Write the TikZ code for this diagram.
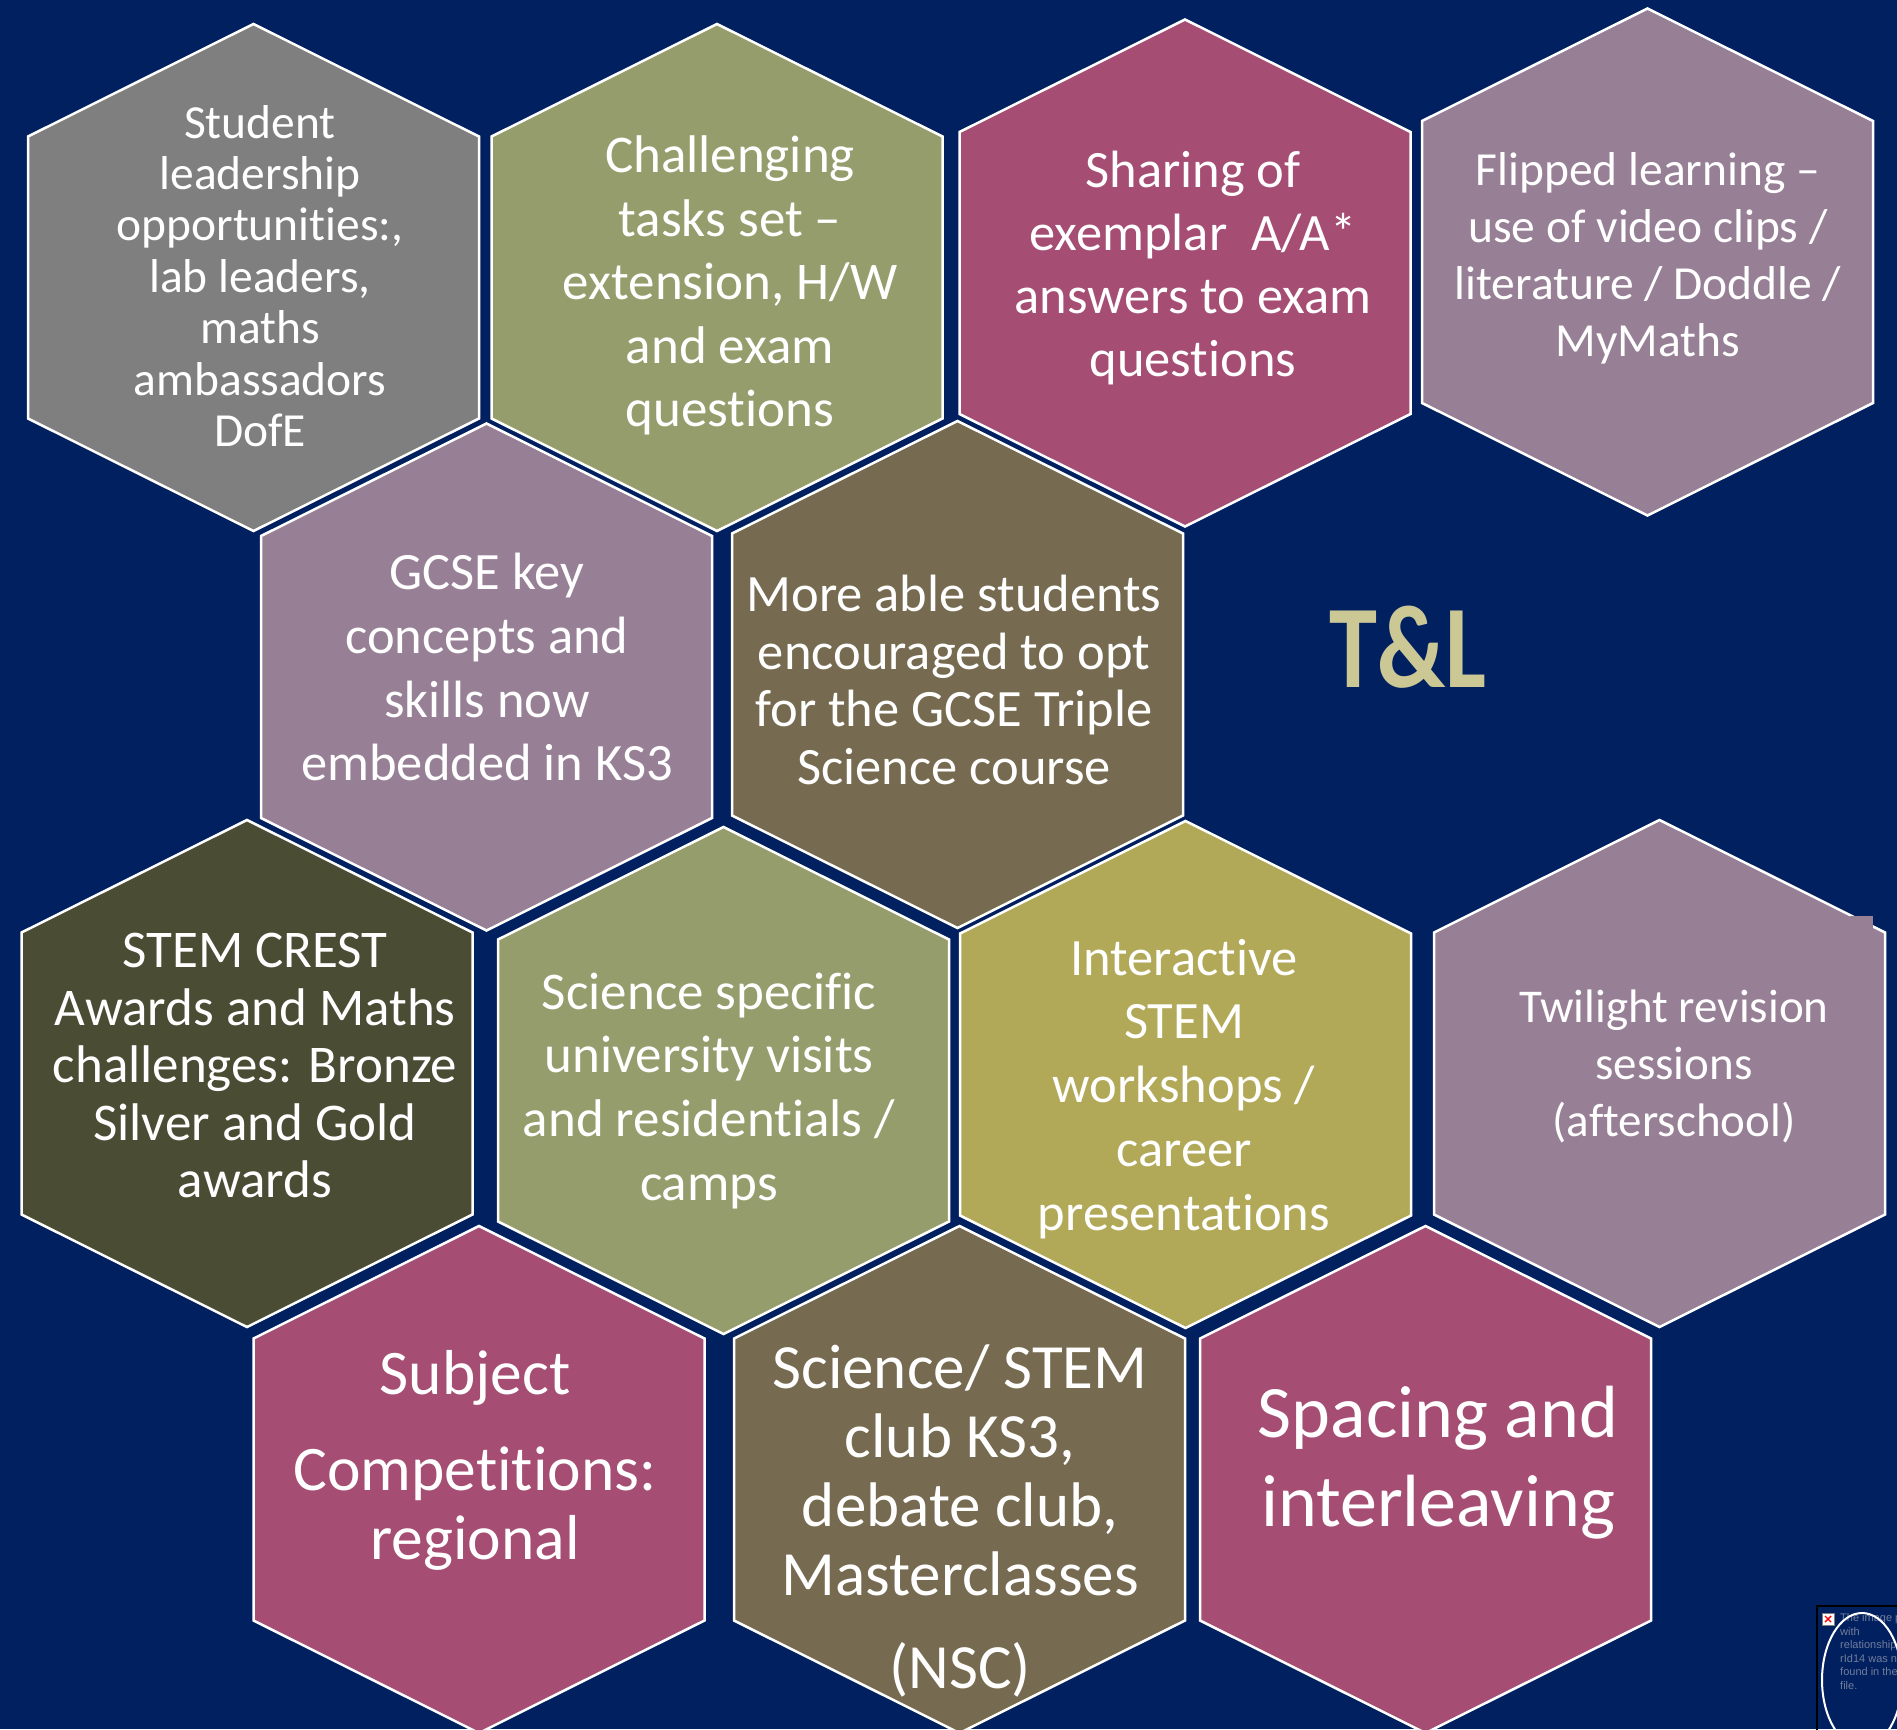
\documentclass[tikz,border=0pt]{standalone}
\usepackage{fontspec}
\setmainfont{Carlito}[Ligatures=CommonOff]
\newfontfamily\arialfont{Liberation Sans}
\definecolor{navybg}{RGB}{0,32,96}
\definecolor{hexgray}{RGB}{127,127,127}
\definecolor{hexolive}{RGB}{150,157,108}
\definecolor{hexmagenta}{RGB}{166,77,116}
\definecolor{hexmauve}{RGB}{151,127,149}
\definecolor{hexbrown}{RGB}{118,107,80}
\definecolor{hexdark}{RGB}{74,76,52}
\definecolor{hexyellow}{RGB}{177,169,88}
\definecolor{tlcolor}{RGB}{204,200,150}
\definecolor{brokengray}{RGB}{115,125,155}
\tikzset{
  hexborder/.style={draw=white, line width=2.5pt, line join=miter},
  hextext/.style={text=white, align=center, inner sep=0pt},
}
\newcommand{\hexshape}[3]{%
  \filldraw[hexborder, fill=#3] (#1-225.5,#2-141) -- (#1,#2-253.5) -- (#1+225.5,#2-141)
    -- (#1+225.5,#2+141) -- (#1,#2+253.5) -- (#1-225.5,#2+141) -- cycle;}
\begin{document}
\begin{tikzpicture}[x=1pt,y=-1pt]
\useasboundingbox (0,0) rectangle (1897,1729);
\clip (0,0) rectangle (1897,1729);
\fill[navybg] (0,0) rectangle (1897,1729);

% row 1
\hexshape{253.5}{277.5}{hexgray}
\hexshape{717}{277.5}{hexolive}
\hexshape{1185}{273}{hexmagenta}
\hexshape{1647.5}{262}{hexmauve}
% row 2
\hexshape{486.5}{677}{hexmauve}
\hexshape{957.5}{674.5}{hexbrown}
% row 3
\hexshape{247}{1073.5}{hexdark}
\hexshape{723.5}{1080.5}{hexolive}
\hexshape{1185.5}{1074.5}{hexyellow}
\hexshape{1659.5}{1073.5}{hexmauve}
\fill[hexmauve] (1850,916) rectangle (1873,929);
% row 4
\hexshape{479}{1479.5}{hexmagenta}
\hexshape{959.5}{1479.5}{hexbrown}
\hexshape{1425.5}{1479.5}{hexmagenta}

% texts
\node[hextext, font=\fontsize{47.5}{51.4}\selectfont] (t1) at (260,282)
  {\strut Student\\leadership\\opportunities:,\\lab leaders,\\maths\\ambassadors\\DofE\strut};
\node[hextext, font=\fontsize{53}{63.5}\selectfont] (t2) at (730,287)
  {\strut Challenging\\tasks set –\\extension, H/W\\and exam\\questions\strut};
\node[hextext, font=\fontsize{52.5}{63}\selectfont] (t3) at (1193,269)
  {\strut Sharing of\\exemplar~~A/A*\\answers to exam\\questions\strut};
\node[hextext, font=\fontsize{47.5}{57}\selectfont] (t4) at (1648,260)
  {\strut Flipped learning –\\use of video clips /\\literature / Doddle /\\MyMaths\strut};
\node[hextext, font=\fontsize{52.5}{63.8}\selectfont] (t5) at (487,672.5)
  {\strut GCSE key\\concepts and\\skills now\\embedded in KS3\strut};
\node[hextext, font=\fontsize{52.5}{57.4}\selectfont] (t6) at (954,686.5)
  {\strut More able students\\encouraged to opt\\for the GCSE Triple\\Science course\strut};
\node[text=tlcolor, inner sep=0pt, font=\bfseries\fontsize{118}{120}\selectfont] (tl) at (1408,647)
  {\scalebox{0.82}[1]{T\&L}};
\node[hextext, font=\fontsize{53}{57.5}\selectfont] (t7) at (255,1071)
  {\strut STEM CREST\\Awards and Maths\\challenges: Bronze\\Silver and Gold\\awards\strut};
\node[hextext, font=\fontsize{53}{63.7}\selectfont] (t8) at (709,1092)
  {\strut Science specific\\university visits\\and residentials /\\camps\strut};
\node[hextext, font=\fontsize{52.5}{63.8}\selectfont] (t9) at (1184,1090)
  {\strut Interactive\\STEM\\workshops /\\career\\presentations\strut};
\node[hextext, font=\fontsize{47}{57.2}\selectfont] (t10) at (1674,1068)
  {\strut Twilight revision\\sessions\\(afterschool)\strut};
\node[hextext, font=\fontsize{63.5}{69}\selectfont] (t11) at (475,1463)
  {\strut Subject\\[27.5pt]Competitions:\\regional\strut};
\node[hextext, font=\fontsize{63}{69.2}\selectfont] (t12) at (960,1524.5)
  {\strut Science/ STEM\\club KS3,\\debate club,\\Masterclasses\\[23.6pt](NSC)\strut};
\node[hextext, font=\fontsize{74}{89.6}\selectfont] (t13) at (1438,1464)
  {\strut Spacing and\\interleaving\strut};

% broken image placeholder
\draw[black, line width=1.5pt] (1817,1606) rectangle (1910,1745);
\node[draw=gray, fill=white, line width=0.8pt, minimum size=12pt, inner sep=0pt] (icon) at (1828,1619) {};
\draw[red, line width=1.4pt] ([shift={(-3,-3)}]icon.center) -- ([shift={(3,3)}]icon.center);
\draw[red, line width=1.4pt] ([shift={(-3,3)}]icon.center) -- ([shift={(3,-3)}]icon.center);
\node[anchor=north west, inner sep=0pt, align=left, text=brokengray,
  font=\arialfont\fontsize{11}{13.5}\selectfont] (msg) at (1840,1612.2)
  {\strut The image part\\with\\relationship\\rId14 was not\\found in the\\file.\strut};
\draw[white, line width=2pt] (1862,1680) ellipse [x radius=40, y radius=67];
\end{tikzpicture}
\end{document}
